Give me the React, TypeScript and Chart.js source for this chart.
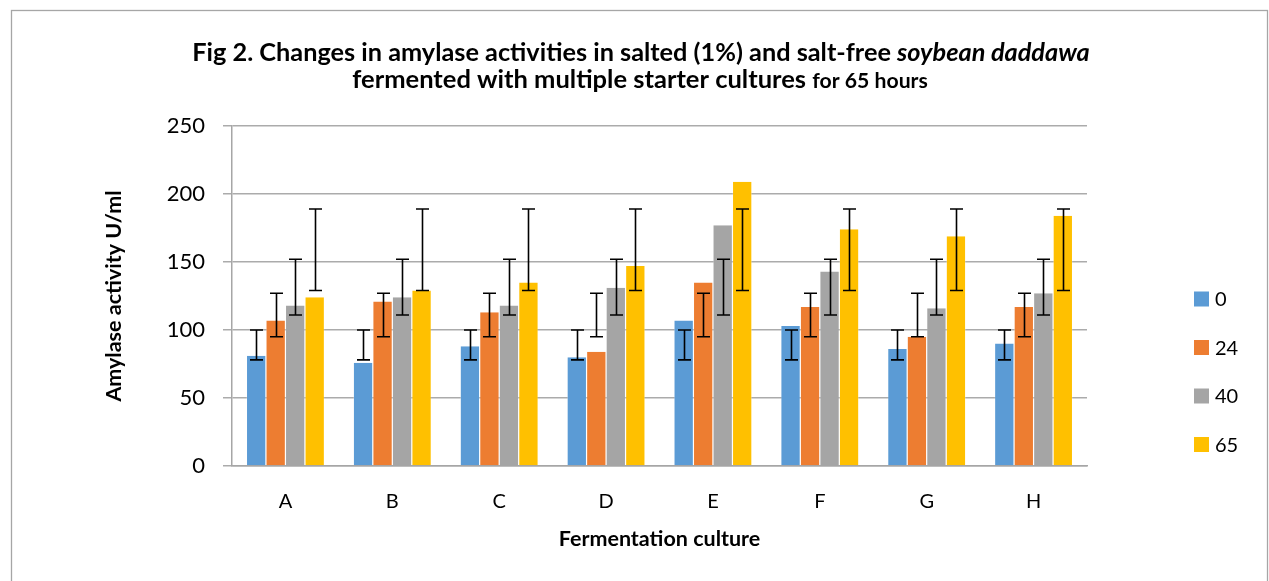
import React, { useEffect, useRef } from "react";
import { Chart, registerables } from "chart.js";

Chart.register(...registerables);

const categories = ["A", "B", "C", "D", "E", "F", "G", "H"];
const seriesLabels = ["0", "24", "40", "65"];
const seriesColors = ["#5B9BD5", "#ED7D31", "#A5A5A5", "#FFC000"];

const values0 = [81, 76, 88, 80, 107, 103, 86, 90];
const values24 = [107, 121, 113, 84, 135, 117, 95, 117];
const values40 = [118, 124, 118, 131, 177, 143, 116, 127];
const values65 = [124, 129, 135, 147, 209, 174, 169, 184];

const errLow0 = [78, 78, 78, 78, 78, 78, 78, 78];
const errHigh0 = [100, 100, 100, 100, 100, 100, 100, 100];
const errLow24 = [95, 95, 95, 95, 95, 95, 95, 95];
const errHigh24 = [127, 127, 127, 127, 127, 127, 127, 127];
const errLow40 = [111, 111, 111, 111, 111, 111, 111, 111];
const errHigh40 = [152, 152, 152, 152, 152, 152, 152, 152];
const errLow65 = [129, 129, 129, 129, 129, 129, 129, 129];
const errHigh65 = [189, 189, 189, 189, 189, 189, 189, 189];

const yMin = 0;
const yMax = 250;
const yStep = 50;

const titleLine1 = [
  { text: "Fig 2. Changes in amylase activities in salted (1%) and salt-free ", italic: false, rel: 1 },
  { text: "soybean daddawa", italic: true, rel: 1 },
];
const titleLine2 = [
  { text: "fermented with multiple starter cultures ", italic: false, rel: 1 },
  { text: "for 65 hours", italic: false, rel: 0.83 },
];
const yAxisTitle = "Amylase activity U/ml";
const xAxisTitle = "Fermentation culture";

const FONT = "Lato, 'Open Sans', sans-serif";

const allValues = [values0, values24, values40, values65];
const errLows = [errLow0, errLow24, errLow40, errLow65];
const errHighs = [errHigh0, errHigh24, errHigh40, errHigh65];

type Seg = { text: string; italic: boolean; rel: number };

function drawLine(ctx: CanvasRenderingContext2D, segs: Seg[], cx: number, cy: number, targetW: number) {
  const base = 18;
  const fontFor = (s: Seg, size: number) =>
    `${s.italic ? "italic " : ""}bold ${size * s.rel}px ${FONT}`;
  let w = 0;
  segs.forEach((s) => {
    ctx.font = fontFor(s, base);
    w += ctx.measureText(s.text).width;
  });
  const size = base * (targetW / w);
  let total = 0;
  segs.forEach((s) => {
    ctx.font = fontFor(s, size);
    total += ctx.measureText(s.text).width;
  });
  let x = cx - total / 2;
  ctx.textBaseline = "alphabetic";
  ctx.textAlign = "left";
  segs.forEach((s) => {
    ctx.font = fontFor(s, size);
    ctx.fillText(s.text, x, cy);
    x += ctx.measureText(s.text).width;
  });
}

const decorPlugin = {
  id: "decor",
  beforeDraw(chart: any) {
    const ctx = chart.ctx as CanvasRenderingContext2D;
    ctx.save();
    ctx.fillStyle = "#ffffff";
    ctx.fillRect(0, 0, chart.width, chart.height);
    ctx.strokeStyle = "#a6a6a6";
    ctx.lineWidth = 1.3;
    ctx.strokeRect(11.5, 10.5, 1256, 640);
    ctx.restore();
  },
  afterDatasetsDraw(chart: any) {
    const ctx = chart.ctx as CanvasRenderingContext2D;
    const yScale = chart.scales.y;
    ctx.save();
    ctx.strokeStyle = "#000000";
    ctx.lineWidth = 1.6;
    chart.data.datasets.forEach((_ds: any, i: number) => {
      const meta = chart.getDatasetMeta(i);
      meta.data.forEach((bar: any, j: number) => {
        const x = Math.round(bar.x) + 0.5;
        const yl = yScale.getPixelForValue(errLows[i][j]);
        const yh = yScale.getPixelForValue(errHighs[i][j]);
        ctx.beginPath();
        ctx.moveTo(x, yl);
        ctx.lineTo(x, yh);
        ctx.moveTo(x - 6.5, yl);
        ctx.lineTo(x + 6.5, yl);
        ctx.moveTo(x - 6.5, yh);
        ctx.lineTo(x + 6.5, yh);
        ctx.stroke();
      });
    });
    ctx.restore();
  },
  afterDraw(chart: any) {
    const ctx = chart.ctx as CanvasRenderingContext2D;
    ctx.save();
    ctx.fillStyle = "#000000";
    drawLine(ctx, titleLine1, 641, 61, 898);
    drawLine(ctx, titleLine2, 640, 88, 576);
    // legend
    const lx = 1194;
    const ly0 = 299;
    const gap = 48.5;
    chart.data.datasets.forEach((ds: any, i: number) => {
      const cy = ly0 + i * gap;
      ctx.fillStyle = ds.backgroundColor;
      ctx.fillRect(lx, cy - 7.5, 15, 15);
      ctx.fillStyle = "#000000";
      ctx.font = `20px ${FONT}`;
      ctx.textBaseline = "middle";
      ctx.textAlign = "left";
      ctx.fillText(ds.label, lx + 21, cy + 1);
    });
    ctx.restore();
  },
};

export default function App() {
  const ref = useRef<HTMLCanvasElement | null>(null);

  useEffect(() => {
    if (!ref.current) return;
    const chart = new Chart(ref.current, {
      type: "bar",
      data: {
        labels: categories,
        datasets: seriesLabels.map((label, i) => ({
          label,
          data: allValues[i],
          backgroundColor: seriesColors[i],
          borderColor: "rgba(255,255,255,0.55)",
          borderWidth: { top: 0, bottom: 0, left: 0.6, right: 0.6 },
          categoryPercentage: 0.73,
          barPercentage: 1,
        })),
      },
      options: {
        responsive: false,
        animation: false,
        layout: { padding: { left: 99, top: 126, right: 182, bottom: 0 } },
        plugins: {
          legend: { display: false },
          title: { display: false },
          tooltip: { enabled: false },
        },
        scales: {
          x: {
            grid: { display: false, drawTicks: false },
            border: { display: true, color: "#a6a6a6", width: 1.5 },
            ticks: { color: "#000", font: { family: FONT, size: 20 }, padding: 24 },
            title: {
              display: true,
              text: xAxisTitle,
              color: "#000",
              font: { family: FONT, size: 21.5, weight: "bold" },
              padding: { top: 4, bottom: 29 },
            },
            afterFit: (s: any) => {
              s.height = 115;
            },
          },
          y: {
            min: yMin,
            max: yMax,
            ticks: { stepSize: yStep, color: "#000", font: { family: FONT, size: 22 }, padding: 18 },
            grid: { color: "#ababab", lineWidth: 1.5, tickLength: 9, drawTicks: true },
            border: { display: true, color: "#a6a6a6", width: 1.5 },
            title: {
              display: true,
              text: yAxisTitle,
              color: "#000",
              font: { family: FONT, size: 21.5, weight: "bold" },
              padding: { top: 2, bottom: 4 },
            },
            afterFit: (s: any) => {
              s.width = 133;
            },
          },
        },
      },
      plugins: [decorPlugin],
    });
    return () => chart.destroy();
  }, []);

  return (
    <div style={{ position: "fixed", left: 0, top: 0, width: 1269, height: 581, background: "#fff" }}>
      <canvas ref={ref} width={1269} height={581} />
    </div>
  );
}
